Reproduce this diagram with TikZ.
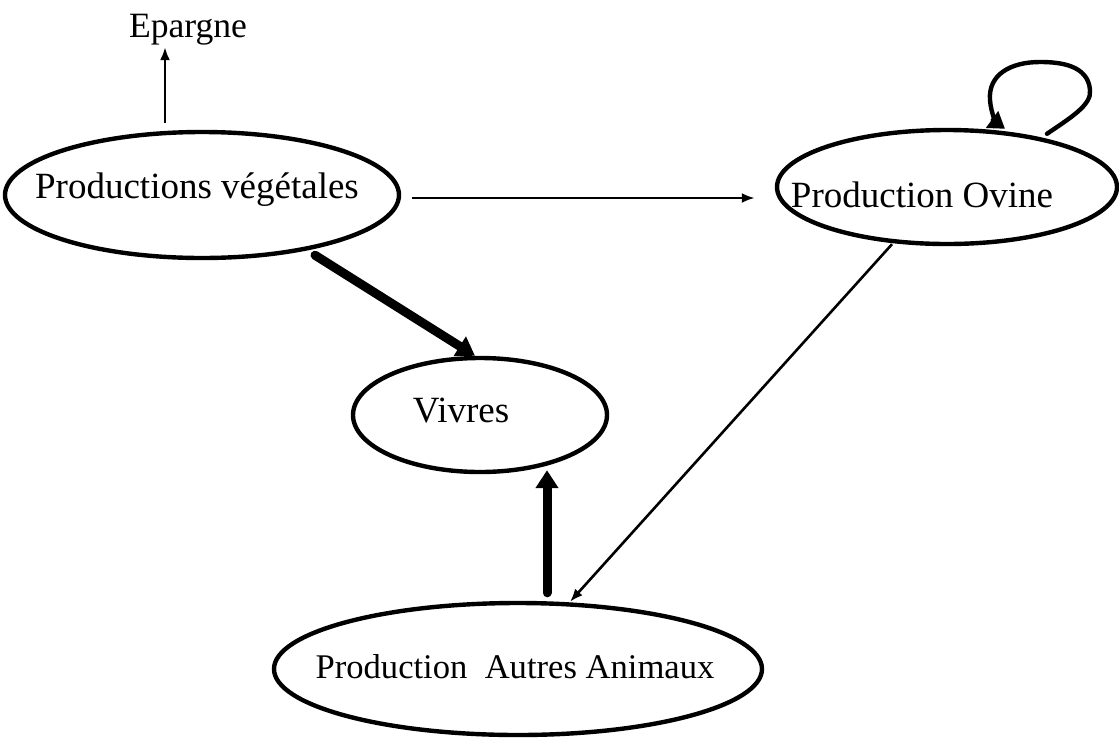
\documentclass[tikz,border=0pt]{standalone}
\usepackage{fontspec}
\setmainfont{Liberation Serif}
\usetikzlibrary{shapes.geometric,arrows.meta}

\tikzset{
  oval/.style={ellipse, draw, line width=2.2pt, inner sep=0pt},
  lbl/.style={anchor=base, inner sep=0pt, font=\fontsize{18.5}{22}\selectfont},
  lblsmall/.style={anchor=base, inner sep=0pt, font=\fontsize{17.3}{21}\selectfont},
  thinarrow/.style={line width=1.3pt, -{Latex[length=6.5pt,width=5pt]}},
  thickarrow/.style={line width=4.5pt, line cap=round, -{Triangle[length=9pt,width=11pt]}},
  selfloop/.style={line width=2.2pt, line cap=round, -{Triangle[length=8pt,width=10pt]}}
}

\begin{document}
\begin{tikzpicture}[x=0.5pt,y=-0.5pt]
  \useasboundingbox (0,0) rectangle (1119,740);

  % the four activity ovals
  \node[oval, minimum width=197pt, minimum height=63pt] (pv) at (202,195) {};
  \node[oval, minimum width=170pt, minimum height=57pt] (ov) at (947,187) {};
  \node[oval, minimum width=127pt, minimum height=57pt] (vi) at (480,415) {};
  \node[oval, minimum width=244pt, minimum height=66pt] (pa) at (518,669) {};

  % their captions
  \node[lbl] (pvt) at (197,198) {Productions végétales};
  \node[lbl] (ovt) at (922,207) {Production Ovine};
  \node[lbl] (vit) at (461,422) {Vivres};
  \node[lblsmall] (pat) at (515,678) {Production\ \ Autres Animaux};
  \node[anchor=base, inner sep=0pt, font=\fontsize{17.8}{21}\selectfont] (ep) at (188,37) {Epargne};

  % flows
  \draw[thinarrow] ([shift={(-37,-7)}]pv.north) -- ([shift={(-23,2)}]ep.south);
  \draw[thinarrow] ([shift={(11,3)}]pv.east) -- ([shift={(-20,11)}]ov.west);
  \draw[thickarrow] ([shift={(113,-5)}]pv.south) -- ([shift={(-5,0)}]vi.north);
  \draw[thickarrow] ([shift={(29,-8)}]pa.north) -- ([shift={(67,-4)}]vi.south);
  \draw[thinarrow] ([shift={(-55,-2)}]ov.south) -- ([shift={(52,1)}]pa.north);

  % self-loop on the sheep production
  \draw[selfloop] ([shift={(100,6)}]ov.north)
    .. controls (1070,118) and (1092,105) .. (1090,90)
    .. controls (1088,65) and (1060,62) .. (1040,62)
    .. controls (1010,62) and (988,75) .. (990,100)
    .. controls (991,114) and (997,123) .. ([shift={(58,1)}]ov.north);
\end{tikzpicture}
\end{document}
